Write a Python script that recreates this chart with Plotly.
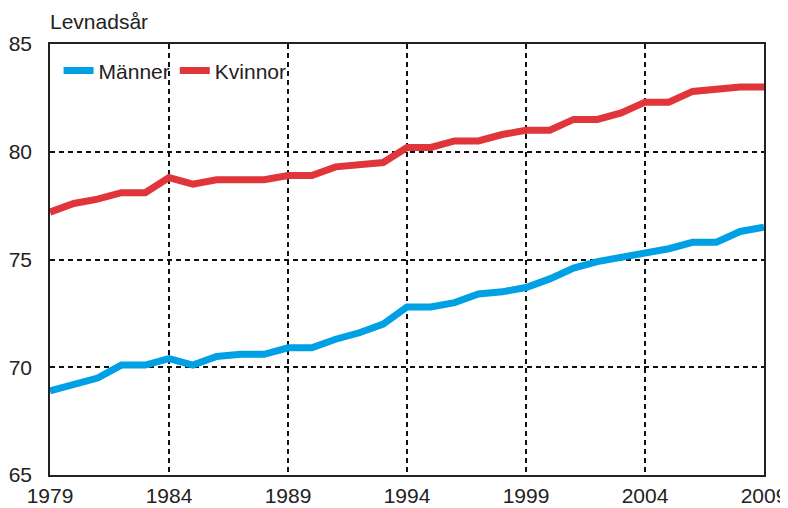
import plotly.graph_objects as go

years = list(range(1979, 2010))
man = [68.9, 69.2, 69.5, 70.1, 70.1, 70.4, 70.1, 70.5, 70.6, 70.6,
       70.9, 70.9, 71.3, 71.6, 72.0, 72.8, 72.8, 73.0, 73.4, 73.5,
       73.7, 74.1, 74.6, 74.9, 75.1, 75.3, 75.5, 75.8, 75.8, 76.3, 76.5]
kvinnor = [77.2, 77.6, 77.8, 78.1, 78.1, 78.8, 78.5, 78.7, 78.7, 78.7,
           78.9, 78.9, 79.3, 79.4, 79.5, 80.2, 80.2, 80.5, 80.5, 80.8,
           81.0, 81.0, 81.5, 81.5, 81.8, 82.3, 82.3, 82.8, 82.9, 83.0, 83.0]
x_ticks = [1979, 1984, 1989, 1994, 1999, 2004, 2009]
y_ticks = [65, 70, 75, 80, 85]

FONT = "Liberation Sans, Arial, sans-serif"
fig = go.Figure()
fig.add_trace(go.Scatter(x=years, y=man, mode="lines", name="Männer",
                         line=dict(color="#00A0E4", width=7)))
fig.add_trace(go.Scatter(x=years, y=kvinnor, mode="lines", name="Kvinnor",
                         line=dict(color="#E0353A", width=7)))

axis_common = dict(showline=True, linecolor="#222", linewidth=1.5, mirror=True,
                   showgrid=True, gridcolor="#111", gridwidth=1.5, griddash="5px,4px",
                   zeroline=False, ticks="outside", tickcolor="rgba(0,0,0,0)",
                   automargin=False,
                   tickfont=dict(family=FONT, size=21, color="#222"))
fig.update_xaxes(range=[1979, 2009], tickvals=x_ticks, ticklen=1, **axis_common)
fig.update_yaxes(range=[65, 85], tickvals=y_ticks, ticklen=12, **axis_common)

fig.add_annotation(text="Levnadsår", xref="paper", yref="paper", x=-0.003, y=1.022,
                   xanchor="left", yanchor="bottom", showarrow=False,
                   font=dict(family=FONT, size=21, color="#222"))

fig.update_layout(
    width=780, height=500,
    margin=dict(l=42, r=24, t=36, b=33, autoexpand=False),
    paper_bgcolor="white", plot_bgcolor="white",
    showlegend=True,
    legend=dict(orientation="h", x=0.012, y=0.985, xanchor="left", yanchor="top",
                bgcolor="rgba(0,0,0,0)", font=dict(family=FONT, size=21, color="#222"),
                itemwidth=30, tracegroupgap=0),
)
fig.write_html("out.html")
